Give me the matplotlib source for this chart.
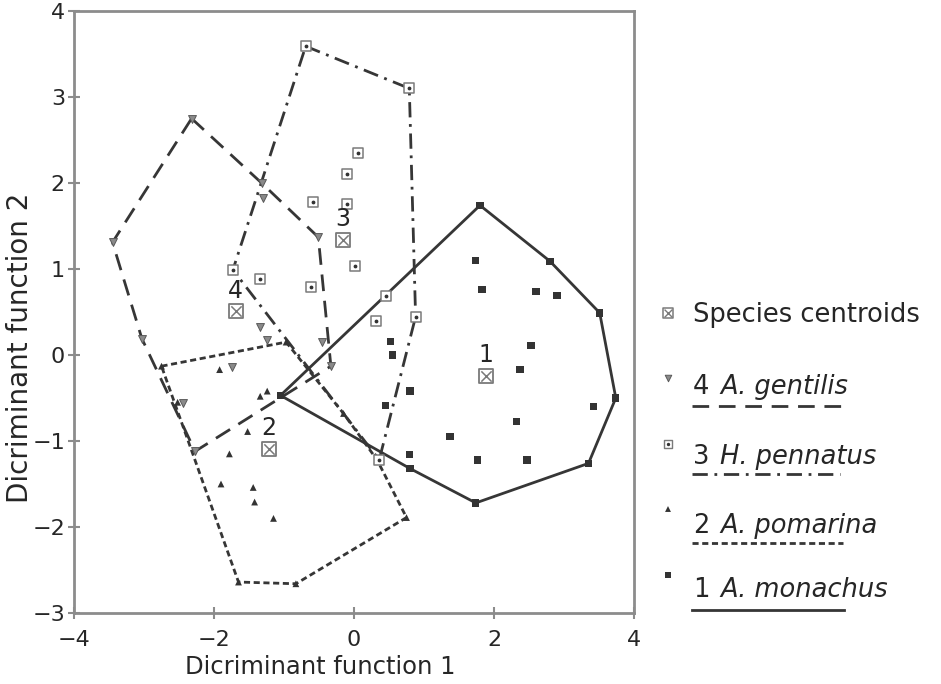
import matplotlib
matplotlib.use("Agg")
import matplotlib.pyplot as plt
import numpy as np

plt.rcParams['font.family'] = ['DejaVu Sans']

# ---------------- data ----------------
# 1 A. monachus
mon_hull_x = [1.80, 2.80, 3.51, 3.74, 3.35, 1.74, 0.80, -1.05]
mon_hull_y = [1.74, 1.09, 0.49, -0.50, -1.26, -1.72, -1.32, -0.47]
mon_x = [1.74, 1.83, 2.60, 2.90, 3.42, 2.53, 2.37, 2.32, 1.37, 1.76, 2.47, 0.79, 0.80, 0.52, 0.55, 0.45]
mon_y = [1.10, 0.76, 0.74, 0.69, -0.60, 0.11, -0.17, -0.77, -0.95, -1.22, -1.22, -1.16, -0.42, 0.16, 0.00, -0.59]

# 2 A. pomarina
pom_hull_x = [-2.75, -0.97, -0.15, 0.33, 0.75, -0.83, -1.65]
pom_hull_y = [-0.13, 0.15, -0.68, -1.22, -1.89, -2.66, -2.64]
pom_x = [-1.92, -1.34, -1.24, -1.52, -1.78, -1.90, -1.44, -1.42, -1.15, -2.52]
pom_y = [-0.17, -0.48, -0.42, -0.89, -1.15, -1.50, -1.54, -1.71, -1.90, -0.55]

# 3 H. pennatus
pen_hull_x = [-0.69, 0.79, 0.88, 0.36, -1.73]
pen_hull_y = [3.59, 3.10, 0.445, -1.22, 0.99]
pen_x = [-1.35, -0.61, -0.58, -0.10, -0.10, 0.05, 0.01, 0.32, 0.46]
pen_y = [0.88, 0.79, 1.78, 2.10, 1.76, 2.35, 1.03, 0.39, 0.69]

# 4 A. gentilis
gen_hull_x = [-2.32, -1.32, -0.51, -0.33, -2.27, -3.03, -3.45]
gen_hull_y = [2.75, 2.00, 1.37, -0.13, -1.12, 0.19, 1.31]
gen_x = [-1.30, -1.34, -1.25, -1.74, -0.46, -2.44]
gen_y = [1.83, 0.33, 0.18, -0.14, 0.155, -0.56]

# species centroids
cen_labels = ['1', '2', '3', '4']
cen_x = [1.89, -1.22, -0.16, -1.69]
cen_y = [-0.24, -1.09, 1.34, 0.51]

legend_numbers = ['4', '3', '2', '1']
legend_names = ['A. gentilis', 'H. pennatus', 'A. pomarina', 'A. monachus']
centroid_label = 'Species centroids'

xticks = [-4, -2, 0, 2, 4]
yticks = [-3, -2, -1, 0, 1, 2, 3, 4]
xlabel = 'Dicriminant function 1'
ylabel = 'Dicriminant function 2'

# ---------------- styles ----------------
LC = '#363636'
TC = '#262626'
GRAY = '#7a7a7a'
LW = 2.0
dash_gen = (0, (6.0, 3.5))
dash_pen = (0, (5.5, 2.4, 1.0, 2.4))
dash_pom = (0, (2.2, 1.3))
FS_TICK = 16
FS_LAB = 17.5
FS_YLAB = 20
FS_LEG = 18.5
FS_CEN = 17

W, H = 941, 684
fig = plt.figure(figsize=(W / 100, H / 100), dpi=100)
ax = fig.add_axes([74 / W, (H - 613) / H, 560 / W, 602 / H])


def closed(xs, ys):
    return list(xs) + [xs[0]], list(ys) + [ys[0]]


# hulls
hx, hy = closed(mon_hull_x, mon_hull_y)
ax.plot(hx, hy, color=LC, lw=LW, ls='-', zorder=3, solid_joinstyle='miter')
hx, hy = closed(pom_hull_x, pom_hull_y)
ax.plot(hx, hy, color=LC, lw=LW, ls=dash_pom, zorder=3)
hx, hy = closed(pen_hull_x, pen_hull_y)
ax.plot(hx, hy, color=LC, lw=LW, ls=dash_pen, zorder=3)
hx, hy = closed(gen_hull_x, gen_hull_y)
ax.plot(hx, hy, color=LC, lw=LW, ls=dash_gen, zorder=3)

# points (including hull vertices)
ax.scatter(list(mon_x) + mon_hull_x, list(mon_y) + mon_hull_y, marker='s', s=28,
           color='#333333', edgecolors='none', zorder=4)
ax.scatter(list(pom_x) + pom_hull_x, list(pom_y) + pom_hull_y, marker='^', s=24,
           color='#333333', edgecolors='none', zorder=4)
pxs = list(pen_x) + pen_hull_x
pys = list(pen_y) + pen_hull_y
ax.scatter(pxs, pys, marker='s', s=45, facecolors='white', edgecolors=GRAY,
           linewidths=1.1, zorder=4)
ax.scatter(pxs, pys, marker='o', s=3, color='#333333', zorder=5)
ax.scatter(list(gen_x) + gen_hull_x, list(gen_y) + gen_hull_y, marker='v', s=32,
           facecolors='#8a8a8a', edgecolors='#5a5a5a', linewidths=0.7, zorder=4)

# centroids
ax.scatter(cen_x, cen_y, marker='s', s=95, facecolors='white', edgecolors=GRAY,
           linewidths=1.3, zorder=6)
ax.scatter(cen_x, cen_y, marker='x', s=55, color=GRAY, linewidths=1.1, zorder=7)
for lab, cx, cy in zip(cen_labels, cen_x, cen_y):
    ax.annotate(lab, (cx, cy), xytext=(0, 6), textcoords='offset points',
                ha='center', va='bottom', fontsize=FS_CEN, color=TC, zorder=8)

ax.set_xlim(-4, 4)
ax.set_ylim(-3, 4)
ax.set_xticks(xticks)
ax.set_yticks(yticks)
ax.set_xticklabels([str(t).replace('-', '\u2212') for t in xticks])
ax.set_yticklabels([str(t).replace('-', '\u2212') for t in yticks])
for sp in ax.spines.values():
    sp.set_color('#8c8c8c')
    sp.set_linewidth(2.0)
ax.tick_params(direction='inout', length=9, width=1.5, color='#8c8c8c',
               labelsize=FS_TICK, labelcolor=TC)
ax.tick_params(axis='x', pad=8)
ax.tick_params(axis='y', pad=2)
ax.set_xlabel(xlabel, fontsize=FS_LAB, color=TC)
ax.set_ylabel(ylabel, fontsize=FS_YLAB, color=TC)
ax.xaxis.set_label_coords(0.44, -0.07)
ax.yaxis.set_label_coords(-0.072, 0.44)

# ---------------- legend (outside, pixel coordinates) ----------------
lg = fig.add_axes([0, 0, 1, 1])
lg.set_xlim(0, W)
lg.set_ylim(H, 0)
lg.axis('off')
lg.patch.set_alpha(0)

mk_x = 668
# centroid entry
lg.scatter([mk_x], [313], marker='s', s=55, facecolors='white', edgecolors=GRAY, linewidths=1.1)
lg.scatter([mk_x], [313], marker='x', s=32, color=GRAY, linewidths=1.0)
lg.text(693, 315, centroid_label, fontsize=FS_LEG, color=TC, va='center', ha='left')

entry_text_y = [387, 457, 526, 590]
entry_line_y = [406, 474, 543, 610]
entry_mark_y = [378, 444, 509, 575]
entry_line_x1 = [847, 840, 843, 844]
entry_styles = [dash_gen, dash_pen, dash_pom, '-']

for i in range(4):
    my = entry_mark_y[i]
    if i == 0:
        lg.scatter([mk_x], [my], marker='v', s=22, facecolors='#8a8a8a', edgecolors='#5a5a5a', linewidths=0.7)
    elif i == 1:
        lg.scatter([mk_x], [my], marker='s', s=28, facecolors='white', edgecolors=GRAY, linewidths=1.0)
        lg.scatter([mk_x], [my], marker='o', s=2, color='#333333')
    elif i == 2:
        lg.scatter([mk_x], [my], marker='^', s=18, color='#333333', edgecolors='none')
    else:
        lg.scatter([mk_x], [my], marker='s', s=22, color='#333333', edgecolors='none')
    lg.text(693, entry_text_y[i], legend_numbers[i], fontsize=FS_LEG, color=TC, va='center', ha='left')
    lg.text(720, entry_text_y[i], legend_names[i], fontsize=FS_LEG, color=TC, va='center', ha='left',
            style='italic')
    lg.plot([692, entry_line_x1[i]], [entry_line_y[i]] * 2, color=LC, lw=LW, ls=entry_styles[i])

fig.savefig('out.png', dpi=100)
